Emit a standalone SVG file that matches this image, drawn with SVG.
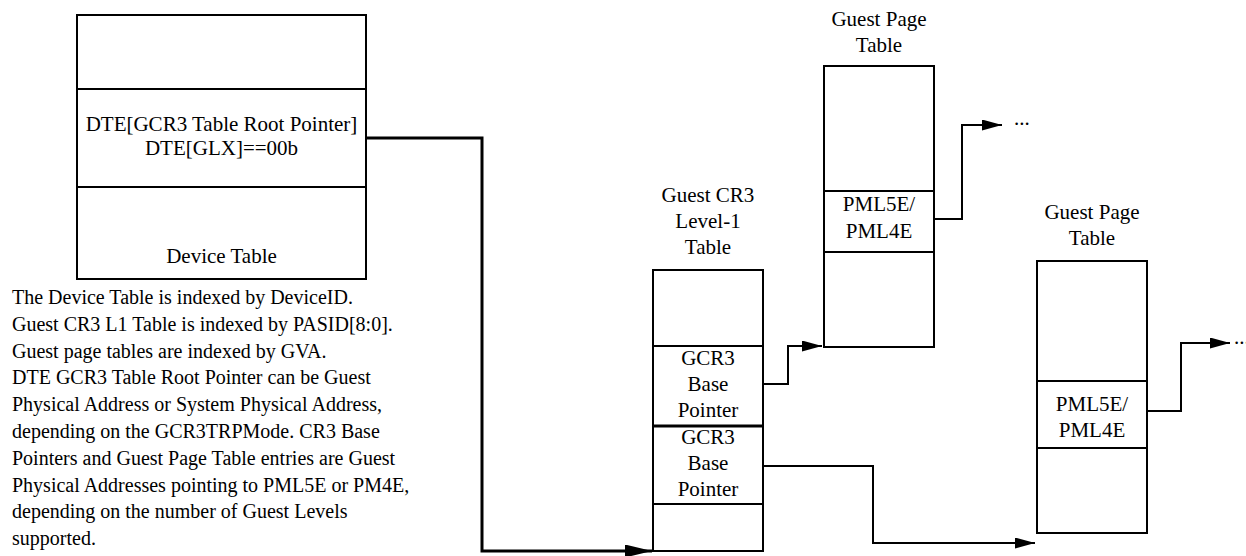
<svg xmlns="http://www.w3.org/2000/svg" width="1246" height="556" viewBox="0 0 1246 556">
<style>
.box{fill:#fff;stroke:#000;stroke-width:2}
.div{stroke:#000;stroke-width:2;fill:none}
.lbl{font-family:"Liberation Serif","Times New Roman",serif;font-size:21px;fill:#000;text-anchor:middle}
.para{font-family:"Liberation Serif","Times New Roman",serif;font-size:20px;fill:#000}
.con{fill:none;stroke:#000;stroke-width:2}
.conThick{fill:none;stroke:#000;stroke-width:3}
</style>
<defs>
<marker id="arr" markerUnits="userSpaceOnUse" markerWidth="20" markerHeight="11" refX="20" refY="5.5" orient="auto">
<path d="M0,0 L20,5.5 L0,11 z" fill="#000"/>
</marker>
<marker id="arrBig" markerUnits="userSpaceOnUse" markerWidth="27" markerHeight="13" refX="27" refY="6.5" orient="auto">
<path d="M0,0 L27,6.5 L0,13 z" fill="#000"/>
</marker>
</defs>
<rect width="1246" height="556" fill="#fff"/>

<g id="device-table">
<rect class="box" x="77" y="15" width="289" height="264"/>
<line class="div" x1="77" y1="89" x2="366" y2="89"/>
<line class="div" x1="77" y1="187" x2="366" y2="187"/>
<text class="lbl" x="221.5" y="131">DTE[GCR3 Table Root Pointer]</text>
<text class="lbl" x="221.5" y="155">DTE[GLX]==00b</text>
<text class="lbl" x="221.5" y="263">Device Table</text>
</g>

<g id="notes">
<text class="para" x="12" y="304">The Device Table is indexed by DeviceID.</text>
<text class="para" x="12" y="330.8">Guest CR3 L1 Table is indexed by PASID[8:0].</text>
<text class="para" x="12" y="357.6">Guest page tables are indexed by GVA.</text>
<text class="para" x="12" y="384.4">DTE GCR3 Table Root Pointer can be Guest</text>
<text class="para" x="12" y="411.2">Physical Address or System Physical Address,</text>
<text class="para" x="12" y="438">depending on the GCR3TRPMode. CR3 Base</text>
<text class="para" x="12" y="464.8">Pointers and Guest Page Table entries are Guest</text>
<text class="para" x="12" y="491.6">Physical Addresses pointing to PML5E or PM4E,</text>
<text class="para" x="12" y="518.4">depending on the number of Guest Levels</text>
<text class="para" x="12" y="545.2">supported.</text>
</g>

<g id="guest-cr3-table">
<text class="lbl" x="708" y="202">Guest CR3</text>
<text class="lbl" x="708" y="228">Level-1</text>
<text class="lbl" x="708" y="254">Table</text>
<rect class="box" x="653" y="270" width="110" height="281"/>
<line class="div" x1="653" y1="346" x2="763" y2="346"/>
<line class="div" x1="653" y1="426" x2="763" y2="426" style="stroke-width:3"/>
<line class="div" x1="653" y1="504" x2="763" y2="504"/>
<text class="lbl" x="708" y="365">GCR3</text>
<text class="lbl" x="708" y="391">Base</text>
<text class="lbl" x="708" y="417">Pointer</text>
<text class="lbl" x="708" y="444">GCR3</text>
<text class="lbl" x="708" y="470">Base</text>
<text class="lbl" x="708" y="496">Pointer</text>
</g>

<g id="guest-page-table-1">
<text class="lbl" x="879" y="26">Guest Page</text>
<text class="lbl" x="879" y="52">Table</text>
<rect class="box" x="824" y="66" width="110" height="281"/>
<line class="div" x1="824" y1="191" x2="934" y2="191"/>
<line class="div" x1="824" y1="252" x2="934" y2="252"/>
<text class="lbl" x="879" y="211">PML5E/</text>
<text class="lbl" x="879" y="238">PML4E</text>
</g>

<g id="guest-page-table-2">
<text class="lbl" x="1092" y="219">Guest Page</text>
<text class="lbl" x="1092" y="245">Table</text>
<rect class="box" x="1037" y="261" width="110" height="272"/>
<line class="div" x1="1037" y1="381" x2="1147" y2="381"/>
<line class="div" x1="1037" y1="448" x2="1147" y2="448"/>
<text class="lbl" x="1092" y="411">PML5E/</text>
<text class="lbl" x="1092" y="437">PML4E</text>
</g>

<g id="ellipsis-1"><text class="para" x="1014" y="125" style="font-size:21px">...</text></g>
<g id="ellipsis-2"><text class="para" x="1234" y="344" style="font-size:21px">...</text></g>

<g id="connectors">
<path class="conThick" d="M366,138 H482 V551 H652" marker-end="url(#arrBig)"/>
<path class="con" d="M764,384 H788 V346 H822" marker-end="url(#arr)"/>
<path class="con" d="M764,466 H873 V543 H1035" marker-end="url(#arr)"/>
<path class="con" d="M935,219 H962 V125 H1002" marker-end="url(#arr)"/>
<path class="con" d="M1148,411 H1181 V343 H1230" marker-end="url(#arr)"/>
</g>
</svg>
